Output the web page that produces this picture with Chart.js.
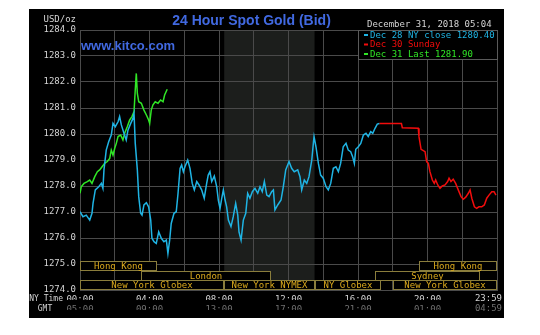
<!DOCTYPE html>
<html>
<head>
<meta charset="utf-8">
<script src="https://cdn.jsdelivr.net/npm/chart.js@4"></script>
<style>
  html, body { margin: 0; padding: 0; background: #fff; }
  canvas { display: block; }
</style>
</head>
<body>
<canvas id="goldChart" width="540" height="335"></canvas>
<script>
// hours after midnight NY time, bid price in USD/oz
const cyanHours = [0,0.17,0.36,0.56,0.69,0.75,0.88,1.08,1.23,1.32,1.38,1.51,1.65,1.80,1.90,2.03,2.19,2.28,2.38,2.53,2.66,2.76,2.92,3.05,3.11,3.18,3.30,3.38,3.49,3.57,3.68,3.82,3.95,4.07,4.14,4.26,4.39,4.53,4.68,4.83,4.97,5.06,5.16,5.25,5.41,5.54,5.64,5.76,5.85,5.95,6.04,6.20,6.33,6.46,6.58,6.72,6.85,7.00,7.15,7.29,7.38,7.48,7.58,7.73,7.87,7.96,8.06,8.16,8.25,8.35,8.44,8.54,8.69,8.82,8.96,9.08,9.15,9.27,9.40,9.54,9.65,9.78,9.92,10.07,10.23,10.36,10.49,10.61,10.75,10.88,11.03,11.13,11.22,11.38,11.57,11.70,11.84,12.03,12.18,12.33,12.53,12.66,12.76,12.91,13.05,13.18,13.34,13.43,13.47,13.58,13.72,13.85,14.00,14.16,14.29,14.43,14.58,14.73,14.87,15.00,15.15,15.31,15.44,15.58,15.69,15.79,15.87,16.02,16.16,16.31,16.46,16.59,16.73,16.85,16.98,17.11,17.23];
const cyanPrices = [1277.01,1276.82,1276.88,1276.69,1276.95,1277.33,1277.85,1277.97,1278.10,1277.91,1278.62,1279.38,1279.70,1279.96,1280.41,1280.28,1280.47,1280.67,1280.35,1280.03,1279.77,1280.15,1280.41,1280.60,1280.79,1279.64,1278.62,1277.59,1276.95,1276.88,1277.27,1277.36,1277.20,1276.69,1275.99,1275.86,1275.79,1276.24,1275.99,1275.86,1275.92,1275.41,1275.92,1276.56,1276.95,1277.01,1277.70,1278.68,1278.81,1278.55,1278.74,1279.00,1278.68,1278.10,1277.85,1278.17,1278.04,1277.85,1277.53,1278.10,1278.42,1278.55,1278.17,1278.38,1277.97,1277.46,1277.14,1277.53,1277.85,1277.46,1277.20,1276.69,1276.44,1276.82,1277.33,1276.88,1276.24,1275.92,1276.69,1276.95,1277.72,1277.53,1277.78,1277.91,1277.72,1277.97,1277.78,1278.17,1277.65,1277.59,1277.78,1277.85,1277.08,1277.27,1277.46,1277.97,1278.62,1278.94,1278.68,1278.55,1278.62,1278.36,1277.85,1278.23,1278.10,1278.36,1279.00,1279.64,1279.90,1279.51,1278.87,1278.42,1278.30,1277.97,1277.85,1278.10,1278.68,1278.74,1278.55,1278.87,1279.51,1279.64,1279.38,1279.32,1279.13,1278.87,1279.41,1279.51,1279.64,1279.96,1280.03,1279.90,1280.09,1280.03,1280.22,1280.38,1280.40];

const redHours = [17.23,18.50,18.55,19.47,19.51,19.63,19.76,19.86,19.95,20.05,20.14,20.28,20.39,20.47,20.59,20.72,20.85,21.01,21.16,21.24,21.35,21.48,21.62,21.77,21.93,22.06,22.20,22.35,22.45,22.55,22.70,22.83,22.96,23.12,23.27,23.41,23.54,23.70,23.83,23.94];
const redPrices = [1280.40,1280.40,1280.24,1280.22,1279.90,1279.41,1279.36,1279.32,1278.94,1278.87,1278.55,1278.23,1278.10,1278.23,1278.04,1277.91,1278.00,1278.04,1278.17,1278.30,1278.17,1278.26,1278.10,1277.85,1277.59,1277.49,1277.57,1277.72,1277.85,1277.53,1277.20,1277.14,1277.20,1277.20,1277.27,1277.53,1277.65,1277.78,1277.78,1277.65];

const greenHours = [0,0.07,0.23,0.42,0.56,0.69,0.85,1.00,1.13,1.27,1.42,1.57,1.71,1.80,1.90,2.00,2.09,2.19,2.34,2.47,2.57,2.72,2.86,2.99,3.11,3.18,3.24,3.30,3.38,3.53,3.68,3.82,3.95,4.01,4.10,4.20,4.33,4.49,4.64,4.78,4.87,5.02];
const greenPrices = [1277.72,1277.97,1278.10,1278.17,1278.23,1278.10,1278.36,1278.55,1278.62,1278.74,1278.87,1278.94,1279.06,1279.38,1279.19,1279.45,1279.64,1279.90,1279.96,1279.77,1280.03,1280.28,1280.54,1280.67,1280.86,1281.69,1282.33,1281.56,1281.24,1281.18,1280.92,1280.73,1280.54,1280.41,1280.92,1281.12,1281.24,1281.18,1281.31,1281.24,1281.50,1281.72];

const seriesLabels = ['Dec 28 NY close 1280.40', 'Dec 30 Sunday', 'Dec 31 Last 1281.90'];

// x axis labels
const tickHours = [0, 4, 8, 12, 16, 20, 24];
const nyTimeLabels = ['00:00', '04:00', '08:00', '12:00', '16:00', '20:00', '23:59'];
const gmtLabels = ['05:00', '09:00', '13:00', '17:00', '21:00', '01:00', '04:59'];

// market sessions (row 0 = top strip)
const sessionNames = ['Hong Kong', 'London', 'New York Globex', 'New York NYMEX', 'NY Globex', 'Sydney', 'Hong Kong', 'New York Globex'];
const sessionStart = [0, 3.5, 0, 8.3, 13.5, 17, 19.5, 18];
const sessionEnd = [4.45, 11, 8.3, 13.5, 17.35, 23, 24, 24];
const sessionRow = [0, 1, 2, 2, 2, 1, 0, 2];
const pitHours = [8.3, 13.5];

const mono = '"DejaVu Sans Mono", monospace';
const lineColors = ['#1fb4e4', '#f20c0c', '#30e626'];

const pts = (xs, ys) => xs.map((h, i) => ({ x: h, y: ys[i] }));

const kitco = {
  id: 'kitco',
  beforeDraw(chart) {
    const { ctx, chartArea: a, scales: { x } } = chart;
    ctx.save();
    ctx.fillStyle = '#fff';
    ctx.fillRect(0, 0, chart.width, chart.height);
    ctx.fillStyle = '#000';
    ctx.fillRect(29, 9, 475, 309);
    // NYMEX pit hours shading
    const s = x.getPixelForValue(pitHours[0]);
    const e = x.getPixelForValue(pitHours[1]);
    ctx.fillStyle = '#1c1e1c';
    ctx.fillRect(s, a.top, e - s, a.bottom - a.top);
    ctx.restore();
  },
  afterDatasetsDraw(chart) {
    const { ctx, chartArea: a, scales: { x } } = chart;
    const rowH = 9.67;
    ctx.save();
    ctx.font = '9px ' + mono;
    ctx.textAlign = 'center';
    ctx.textBaseline = 'middle';
    sessionNames.forEach((name, i) => {
      const l = Math.round(x.getPixelForValue(sessionStart[i])) + 0.5;
      const r = Math.round(x.getPixelForValue(sessionEnd[i])) - 0.5;
      const t = Math.round(a.bottom - (3 - sessionRow[i]) * rowH) + 0.5;
      const b = Math.round(t + rowH) - 0.5;
      ctx.fillStyle = '#000';
      ctx.fillRect(l, t, r - l, b - t);
      ctx.strokeStyle = '#8a7d3c';
      ctx.lineWidth = 1;
      ctx.strokeRect(l, t, r - l, b - t);
      ctx.fillStyle = '#dcaa1c';
      ctx.fillText(name, (l + r) / 2, (t + b) / 2 + 0.5);
    });
    ctx.restore();
  },
  afterDraw(chart) {
    const { ctx, chartArea: a } = chart;
    ctx.save();
    // title + site
    ctx.textBaseline = 'middle';
    ctx.textAlign = 'center';
    ctx.fillStyle = '#4169e1';
    ctx.font = 'bold 14px "Liberation Sans", Arial, sans-serif';
    ctx.fillText('24 Hour Spot Gold (Bid)', 251.5, 21);
    ctx.textAlign = 'left';
    ctx.font = 'bold 13px "Liberation Sans", Arial, sans-serif';
    ctx.fillText('www.kitco.com', 81, 46);

    ctx.font = '9px ' + mono;
    ctx.fillStyle = '#d4d4d4';
    ctx.fillText('December 31, 2018 05:04', 367, 25);
    ctx.textAlign = 'right';
    ctx.fillText('USD/oz', 76, 20);
    ctx.font = '8px ' + mono;
    ctx.fillText('NY Time', 63, 299);
    ctx.textAlign = 'center';
    ctx.fillText('GMT', 45, 309);

    // last tick labels, kept inside the frame
    ctx.font = '9px ' + mono;
    ctx.textAlign = 'right';
    ctx.fillText(nyTimeLabels[6], 502, 299);
    ctx.fillStyle = '#707070';
    ctx.fillText(gmtLabels[6], 502, 309);

    // legend box
    ctx.fillStyle = '#000';
    ctx.fillRect(358.5, a.top + 0.5, a.right - 358, 29);
    ctx.strokeStyle = '#5a5a5a';
    ctx.lineWidth = 1;
    ctx.strokeRect(358.5, a.top + 0.5, a.right - 358, 29);
    ctx.textAlign = 'left';
    chart.data.datasets.forEach((ds, i) => {
      const y = a.top + 5 + i * 9.5;
      ctx.fillStyle = ds.borderColor;
      ctx.fillRect(364, y - 1, 4, 2);
      ctx.fillText(ds.label, 370, y + 0.5);
    });
    ctx.restore();
  }
};

new Chart(document.getElementById('goldChart'), {
  type: 'line',
  data: {
    datasets: [
      { label: seriesLabels[0], data: pts(cyanHours, cyanPrices), borderColor: lineColors[0] },
      { label: seriesLabels[1], data: pts(redHours, redPrices), borderColor: lineColors[1] },
      { label: seriesLabels[2], data: pts(greenHours, greenPrices), borderColor: lineColors[2] }
    ]
  },
  options: {
    responsive: false,
    animation: false,
    devicePixelRatio: 1,
    layout: { padding: { left: 29, right: 43, top: 30, bottom: 25 } },
    elements: {
      line: { borderWidth: 1.5, tension: 0, fill: false },
      point: { radius: 0 }
    },
    plugins: { legend: { display: false }, tooltip: { enabled: false } },
    scales: {
      x: {
        type: 'linear', position: 'bottom', min: 0, max: 24, weight: 0,
        afterFit: (s) => { s.height = 10; },
        grid: { color: '#4a4a4a', drawTicks: false },
        border: { color: '#4a4a4a' },
        ticks: {
          stepSize: 2, autoSkip: false, maxRotation: 0, padding: 4,
          color: '#d4d4d4', font: { family: mono, size: 9 },
          callback: (v) => {
            const i = tickHours.indexOf(v);
            return i >= 0 && i < 6 ? nyTimeLabels[i] : '';
          }
        }
      },
      gmt: {
        type: 'linear', position: 'bottom', min: 0, max: 24, weight: 1,
        afterFit: (s) => { s.height = 10; },
        grid: { display: false, drawTicks: false },
        border: { display: false },
        ticks: {
          stepSize: 4, autoSkip: false, maxRotation: 0, padding: 4,
          color: '#707070', font: { family: mono, size: 9 },
          callback: (v) => {
            const i = tickHours.indexOf(v);
            return i >= 0 && i < 6 ? gmtLabels[i] : '';
          }
        }
      },
      y: {
        min: 1274, max: 1284,
        afterFit: (s) => { s.width = 51; },
        grid: { color: '#4a4a4a', drawTicks: false },
        border: { color: '#4a4a4a' },
        ticks: {
          stepSize: 1, padding: 4,
          color: '#d4d4d4', font: { family: mono, size: 9 },
          callback: (v) => v.toFixed(1)
        }
      }
    }
  },
  plugins: [kitco]
});
</script>
</body>
</html>
